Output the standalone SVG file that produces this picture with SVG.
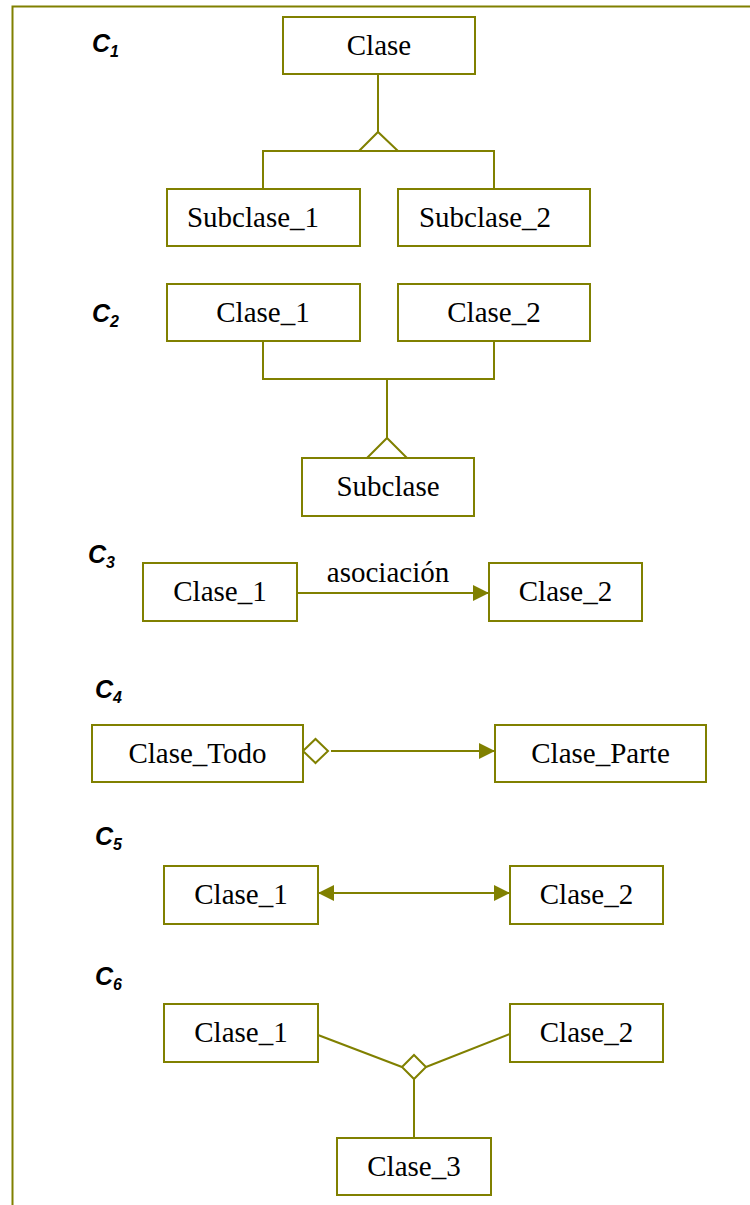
<svg xmlns="http://www.w3.org/2000/svg" width="750" height="1205" viewBox="0 0 750 1205">
  <style>
    .box { fill: #ffffff; stroke: #808000; stroke-width: 2; }
    .ln { fill: none; stroke: #808000; stroke-width: 2; }
    .hollow { fill: #ffffff; stroke: #808000; stroke-width: 2; }
    .name { font-family: "Liberation Serif", "Times New Roman", serif; font-size: 29px; fill: #000000; text-anchor: middle; }
    .tag { font-family: "Liberation Sans", Arial, sans-serif; font-weight: bold; font-style: italic; font-size: 25px; fill: #000000; }
    .sub { font-size: 16px; }
  </style>
  <defs>
    <marker id="arrowEnd" viewBox="0 0 16 16" refX="16" refY="8" markerWidth="16" markerHeight="16" markerUnits="userSpaceOnUse" orient="auto">
      <path d="M0,0 L16,8 L0,16 Z" fill="#808000"/>
    </marker>
    <marker id="arrowStart" viewBox="0 0 16 16" refX="0" refY="8" markerWidth="16" markerHeight="16" markerUnits="userSpaceOnUse" orient="auto">
      <path d="M16,0 L0,8 L16,16 Z" fill="#808000"/>
    </marker>
  </defs>

  <!-- outer frame (top and left edges) -->
  <path class="ln" d="M12.5,1205 V6.5 H750" stroke-width="2.5"/>

  <!-- section tags -->
  <g id="tags">
    <text class="tag" x="92" y="52">C<tspan class="sub" dy="5">1</tspan></text>
    <text class="tag" x="92" y="322">C<tspan class="sub" dy="5">2</tspan></text>
    <text class="tag" x="88" y="563">C<tspan class="sub" dy="5">3</tspan></text>
    <text class="tag" x="95" y="698">C<tspan class="sub" dy="5">4</tspan></text>
    <text class="tag" x="95" y="845">C<tspan class="sub" dy="5">5</tspan></text>
    <text class="tag" x="95" y="985">C<tspan class="sub" dy="5">6</tspan></text>
  </g>

  <!-- connectors -->
  <g id="connectors">
    <!-- C1: generalization -->
    <path class="ln" d="M378,74 V132"/>
    <path class="ln" d="M263,189 V151 H494 V189"/>
    <path class="hollow" d="M359,151 L378,132 L398,151 Z"/>
    <!-- C2: multiple inheritance -->
    <path class="ln" d="M263,341 V379 H494 V341"/>
    <path class="ln" d="M387,379 V438"/>
    <path class="hollow" d="M367,458 L387,438 L407,458 Z"/>
    <!-- C3: association -->
    <path class="ln" d="M297,593 H489" marker-end="url(#arrowEnd)"/>
    <text class="name" x="388" y="582">asociación</text>
    <!-- C4: aggregation -->
    <path class="hollow" d="M303,751 L315.5,739 L328,751 L315.5,763 Z"/>
    <path class="ln" d="M331,751 H495" marker-end="url(#arrowEnd)"/>
    <!-- C5: bidirectional -->
    <path class="ln" d="M318,893 H510" marker-start="url(#arrowStart)" marker-end="url(#arrowEnd)"/>
    <!-- C6: ternary association -->
    <path class="ln" d="M318,1035 L402,1067"/>
    <path class="ln" d="M426,1067 L510,1034"/>
    <path class="ln" d="M414,1079 V1138"/>
    <path class="hollow" d="M402,1067 L414,1055 L426,1067 L414,1079 Z"/>
  </g>

  <!-- C1 nodes -->
  <g id="c1-clase"><rect class="box" x="283" y="17" width="192" height="57"/><text class="name" x="379" y="55">Clase</text></g>
  <g id="c1-subclase1"><rect class="box" x="167" y="189" width="193" height="57"/><text class="name" x="253" y="227">Subclase_1</text></g>
  <g id="c1-subclase2"><rect class="box" x="398" y="189" width="192" height="57"/><text class="name" x="485" y="227">Subclase_2</text></g>

  <!-- C2 nodes -->
  <g id="c2-clase1"><rect class="box" x="167" y="284" width="193" height="57"/><text class="name" x="263" y="322">Clase_1</text></g>
  <g id="c2-clase2"><rect class="box" x="398" y="284" width="192" height="57"/><text class="name" x="494" y="322">Clase_2</text></g>
  <g id="c2-subclase"><rect class="box" x="302" y="458" width="172" height="58"/><text class="name" x="388" y="496">Subclase</text></g>

  <!-- C3 nodes -->
  <g id="c3-clase1"><rect class="box" x="143" y="563" width="154" height="58"/><text class="name" x="220" y="601">Clase_1</text></g>
  <g id="c3-clase2"><rect class="box" x="489" y="563" width="153" height="58"/><text class="name" x="565.5" y="601">Clase_2</text></g>

  <!-- C4 nodes -->
  <g id="c4-todo"><rect class="box" x="92" y="725" width="211" height="57"/><text class="name" x="197.5" y="763">Clase_Todo</text></g>
  <g id="c4-parte"><rect class="box" x="495" y="725" width="211" height="57"/><text class="name" x="600.5" y="763">Clase_Parte</text></g>

  <!-- C5 nodes -->
  <g id="c5-clase1"><rect class="box" x="164" y="866" width="154" height="58"/><text class="name" x="241" y="904">Clase_1</text></g>
  <g id="c5-clase2"><rect class="box" x="510" y="866" width="153" height="58"/><text class="name" x="586.5" y="904">Clase_2</text></g>

  <!-- C6 nodes -->
  <g id="c6-clase1"><rect class="box" x="164" y="1004" width="154" height="58"/><text class="name" x="241" y="1042">Clase_1</text></g>
  <g id="c6-clase2"><rect class="box" x="510" y="1004" width="153" height="58"/><text class="name" x="586.5" y="1042">Clase_2</text></g>
  <g id="c6-clase3"><rect class="box" x="337" y="1138" width="154" height="57"/><text class="name" x="414" y="1176">Clase_3</text></g>
</svg>
